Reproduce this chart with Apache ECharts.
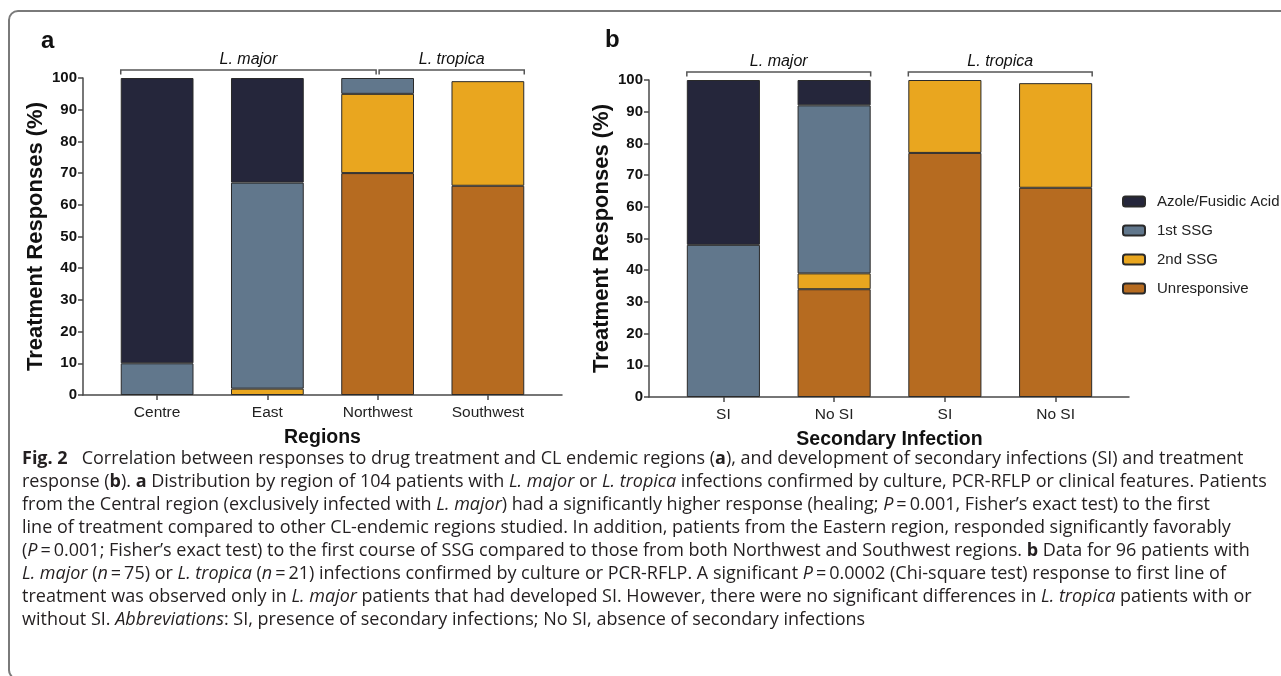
<!DOCTYPE html>
<html>
<head>
<meta charset="utf-8">
<script src="https://cdn.jsdelivr.net/npm/echarts@6/dist/echarts.min.js"></script>
<style>
  html, body { margin:0; padding:0; background:#fff; }
  #wrap { position:relative; width:1281px; height:676px; overflow:hidden; }
  #frame { position:absolute; left:8px; top:10px; width:1400px; height:670px; border:2px solid #7a7a7a; border-radius:10px; box-sizing:border-box; }
  #chart { position:absolute; left:0; top:0; width:1281px; height:676px; }
  #caption { position:absolute; z-index:2; left:22px; top:446px; font-family:'Open Sans','Noto Sans',sans-serif; font-size:18px; line-height:23px; color:#231f20; white-space:nowrap; }
  #caption div { white-space:nowrap; }
</style>
</head>
<body>
<div id="wrap">
  <div id="frame"></div>
  <div id="chart"></div>
  <div id="caption">
    <div><b>Fig. 2</b>&nbsp;&nbsp; Correlation between responses to drug treatment and CL endemic regions (<b>a</b>), and development of secondary infections (SI) and treatment</div>
    <div>response (<b>b</b>). <b>a</b> Distribution by region of 104 patients with <i>L. major</i> or <i>L. tropica</i> infections confirmed by culture, PCR-RFLP or clinical features. Patients</div>
    <div>from the Central region (exclusively infected with <i>L. major</i>) had a significantly higher response (healing; <i>P</i>&thinsp;=&thinsp;0.001, Fisher’s exact test) to the first</div>
    <div>line of treatment compared to other CL-endemic regions studied. In addition, patients from the Eastern region, responded significantly favorably</div>
    <div>(<i>P</i>&thinsp;=&thinsp;0.001; Fisher’s exact test) to the first course of SSG compared to those from both Northwest and Southwest regions. <b>b</b> Data for 96 patients with</div>
    <div><i>L. major</i> (<i>n</i>&thinsp;=&thinsp;75) or <i>L. tropica</i> (<i>n</i>&thinsp;=&thinsp;21) infections confirmed by culture or PCR-RFLP. A significant <i>P</i>&thinsp;=&thinsp;0.0002 (Chi-square test) response to first line of</div>
    <div>treatment was observed only in <i>L. major</i> patients that had developed SI. However, there were no significant differences in <i>L. tropica</i> patients with or</div>
    <div>without SI. <i>Abbreviations</i>: SI, presence of secondary infections; No SI, absence of secondary infections</div>
  </div>
</div>
<script>
// ---------- data ----------
const seriesNames = ['Unresponsive', '2nd SSG', '1st SSG', 'Azole/Fusidic Acid']; // stack bottom -> top
const legendOrder = ['Azole/Fusidic Acid', '1st SSG', '2nd SSG', 'Unresponsive'];

const categoriesA = ['Centre', 'East', 'Northwest', 'Southwest'];
const unresponsiveA = [0, 0, 70, 66];
const ssg2A = [0, 2, 25, 33];
const ssg1A = [10, 65, 5, 0];
const azoleA = [90, 33, 0, 0];

const categoriesB = ['SI', 'No SI', 'SI', 'No SI'];
const unresponsiveB = [0, 34, 77, 66];
const ssg2B = [0, 5, 23, 33];
const ssg1B = [48, 53, 0, 0];
const azoleB = [52, 8, 0, 0];

const yTicks = [0, 10, 20, 30, 40, 50, 60, 70, 80, 90, 100];

// species groups: [label, firstCategoryIndex, lastCategoryIndex]
const speciesA = [['L. major', 0, 2], ['L. tropica', 2, 3]];
const speciesB = [['L. major', 0, 1], ['L. tropica', 2, 3]];

// ---------- style ----------
const colors = {
  'Unresponsive': '#b66b20',
  '2nd SSG': '#e9a61f',
  '1st SSG': '#61778c',
  'Azole/Fusidic Acid': '#25263b'
};
const FONT = "'Liberation Sans',Arial,Helvetica,sans-serif";
const axisColor = '#4a4a4a';
const BAR_W = '66%';

const chart = echarts.init(document.getElementById('chart'), null, {renderer: 'canvas'});

function frameAxes(gridIndex) {
  return {
    x: {
      type: 'value', gridIndex: gridIndex, min: 0, max: 1,
      axisLine: {show: true, lineStyle: {color: axisColor, width: 1.5}},
      axisTick: {show: false}, axisLabel: {show: false}, splitLine: {show: false}
    },
    y: {
      type: 'value', gridIndex: gridIndex, min: yTicks[0], max: yTicks[yTicks.length - 1],
      interval: yTicks[1] - yTicks[0],
      name: 'Treatment Responses (%)', nameLocation: 'middle', nameGap: 36,
      nameTextStyle: {fontFamily: FONT, fontWeight: 'bold', fontSize: 22, color: '#111'},
      axisLine: {show: true, lineStyle: {color: axisColor, width: 1.5}},
      axisTick: {show: true, length: 5, lineStyle: {color: axisColor, width: 1.5}},
      axisLabel: {margin: 6, fontFamily: FONT, fontWeight: 'bold', fontSize: 15, color: '#111'},
      splitLine: {show: false}
    }
  };
}

function barAxes(gridIndex, cats, title) {
  return {
    x: {
      type: 'category', gridIndex: gridIndex, data: cats,
      name: title, nameLocation: 'middle', nameGap: 33,
      nameTextStyle: {fontFamily: FONT, fontWeight: 'bold', fontSize: 19.5, color: '#111'},
      axisLine: {show: false},
      axisTick: {show: true, alignWithLabel: true, length: 5, lineStyle: {color: axisColor, width: 1.5}},
      axisLabel: {margin: 10, fontFamily: FONT, fontSize: 15.5, color: '#222', interval: 0}
    },
    y: {type: 'value', gridIndex: gridIndex, min: 0, max: 100, show: false}
  };
}

const fA = frameAxes(0), bA = barAxes(1, categoriesA, 'Regions');
const fB = frameAxes(2), bB = barAxes(3, categoriesB, 'Secondary Infection');

function mkSeries(name, values, axisIndex, stack) {
  return {
    name: name, type: 'bar', stack: stack, xAxisIndex: axisIndex, yAxisIndex: axisIndex,
    barWidth: BAR_W,
    data: values.map(v => (v === 0 ? '-' : v)),
    itemStyle: {color: colors[name], borderColor: '#2a2a2a', borderWidth: 1},
    emphasis: {disabled: true}
  };
}

const valuesA = [unresponsiveA, ssg2A, ssg1A, azoleA];
const valuesB = [unresponsiveB, ssg2B, ssg1B, azoleB];
const series = [];
seriesNames.forEach((n, i) => series.push(mkSeries(n, valuesA[i], 1, 'A')));
seriesNames.forEach((n, i) => series.push(mkSeries(n, valuesB[i], 3, 'B')));

const G = (l, t, w, h) => ({left: l, top: t, width: w, height: h, containLabel: false, outerBoundsMode: 'none'});

chart.setOption({
  animation: false,
  textStyle: {fontFamily: FONT},
  grid: [G(83, 78, 479, 317), G(102, 78, 441, 317), G(649, 80, 480, 317), G(668, 80, 443, 317)],
  xAxis: [fA.x, bA.x, fB.x, bB.x],
  yAxis: [fA.y, bA.y, fB.y, bB.y],
  legend: {
    data: legendOrder, orient: 'vertical', left: 1122, top: 194, padding: 0,
    itemWidth: 22, itemHeight: 10, itemGap: 14,
    textStyle: {fontFamily: FONT, fontSize: 15, color: '#222', padding: [0, 0, 0, 7]},
    selectedMode: false
  },
  title: [
    {text: 'a', left: 41, top: 29, padding: 0, textStyle: {fontFamily: FONT, fontWeight: 'bold', fontSize: 24, color: '#111'}},
    {text: 'b', left: 605, top: 28, padding: 0, textStyle: {fontFamily: FONT, fontWeight: 'bold', fontSize: 24, color: '#111'}}
  ],
  series: series
});

// species brackets computed through the bar axes
function brackets(axisIndex, groups) {
  const els = [];
  const px = i => chart.convertToPixel({xAxisIndex: axisIndex, yAxisIndex: axisIndex}, [i, 100]);
  const band = px(1)[0] - px(0)[0];
  const half = band * 0.66 / 2;
  groups.forEach((g, gi) => {
    const [label, a, b] = g;
    const prev = groups[gi - 1], next = groups[gi + 1];
    const pa = px(a), pb = px(b);
    const x1 = (prev && prev[2] === a) ? pa[0] + 1.5 : pa[0] - half;
    const x2 = (next && next[1] === b) ? pb[0] - 1.5 : pb[0] + half;
    const y = pa[1] - 8;
    els.push({
      type: 'polyline', silent: true,
      shape: {points: [[x1, y + 4.5], [x1, y], [x2, y], [x2, y + 4.5]]},
      style: {stroke: '#555', lineWidth: 1.5, fill: null}
    });
    els.push({
      type: 'text', silent: true, x: (x1 + x2) / 2, y: y - 10,
      style: {text: label, fontFamily: FONT, fontStyle: 'italic', fontSize: 16, fill: '#111', align: 'center', verticalAlign: 'middle'}
    });
  });
  return els;
}
chart.setOption({graphic: {elements: brackets(1, speciesA).concat(brackets(3, speciesB))}});
</script>
</body>
</html>
